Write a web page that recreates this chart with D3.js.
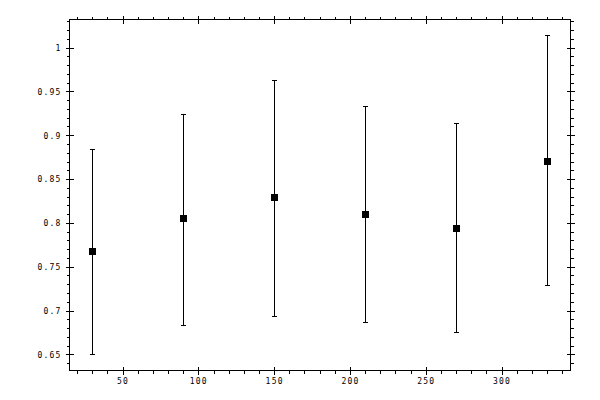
<!DOCTYPE html>
<html>
<head>
<meta charset="utf-8">
<script src="https://cdn.jsdelivr.net/npm/d3@7"></script>
<style>
  html, body { margin: 0; padding: 0; background: #fff; }
  svg { display: block; }
  text { font-family: "DejaVu Sans Mono", monospace; font-size: 8px; letter-spacing: 1.2px; fill: #000; }
</style>
</head>
<body>
<svg id="chart" width="600" height="400"></svg>
<script>
// Data
const xValues   = [30, 90, 150, 210, 270, 330];
const yValues   = [0.768, 0.805, 0.829, 0.8105, 0.7945, 0.871];
const yUpper    = [0.8845, 0.9247, 0.9635, 0.9338, 0.9144, 1.014];
const yLower    = [0.6507, 0.6838, 0.6933, 0.6872, 0.675, 0.7287];
const xTicks    = [50, 100, 150, 200, 250, 300];
const yTicks    = [0.65, 0.7, 0.75, 0.8, 0.85, 0.9, 0.95, 1];

(function () {
const svg = d3.select("#chart");
const L = 69.5, R = 570.5, T = 19.5, B = 370.5;

const x = d3.scaleLinear().domain([15, 345.5]).range([L, R]);
const y = d3.scaleLinear().domain([0.6316, 1.032]).range([B, T]);

const xMinor = d3.range(20, 345, 10).filter(v => v % 50 !== 0);
const yMinor = d3.range(64, 104, 1).map(v => v / 100).filter(v => Math.round(v * 100) % 5 !== 0);

const g = svg.append("g").attr("shape-rendering", "crispEdges");

g.append("rect").attr("x", L).attr("y", T).attr("width", R - L).attr("height", B - T)
  .attr("fill", "none").attr("stroke", "#000").attr("stroke-width", 1);

function styleAxis(sel) {
  sel.select(".domain").remove();
  sel.selectAll("line").attr("stroke", "#000").attr("stroke-width", 1);
}

const axBottom = g.append("g").attr("transform", `translate(0,${B})`)
  .call(d3.axisBottom(x).tickValues(xTicks).tickSize(4).tickFormat(d3.format("d")));
styleAxis(axBottom);
axBottom.selectAll(".tick line").attr("y1", -4).attr("y2", 4);
axBottom.selectAll(".tick text").attr("y", 13).attr("dy", 0).attr("text-anchor", "middle");

const axBottomMinor = g.append("g").attr("transform", `translate(0,${B})`)
  .call(d3.axisBottom(x).tickValues(xMinor).tickSize(3).tickFormat(""));
styleAxis(axBottomMinor);

const axTop = g.append("g").attr("transform", `translate(0,${T})`)
  .call(d3.axisTop(x).tickValues(xTicks).tickSize(4).tickFormat(""));
styleAxis(axTop);
axTop.selectAll(".tick line").attr("y1", -4).attr("y2", 4);
const axTopMinor = g.append("g").attr("transform", `translate(0,${T})`)
  .call(d3.axisTop(x).tickValues(xMinor).tickSize(3).tickFormat(""));
styleAxis(axTopMinor);

const axLeft = g.append("g").attr("transform", `translate(${L},0)`)
  .call(d3.axisLeft(y).tickValues(yTicks).tickSize(4).tickFormat(d => String(+d.toFixed(2))));
styleAxis(axLeft);
axLeft.selectAll(".tick line").attr("x1", -4).attr("x2", 4);
axLeft.selectAll(".tick text").attr("x", -8).attr("dy", "0.35em").attr("text-anchor", "end");
const axLeftMinor = g.append("g").attr("transform", `translate(${L},0)`)
  .call(d3.axisLeft(y).tickValues(yMinor).tickSize(3).tickFormat(""));
styleAxis(axLeftMinor);

const axRight = g.append("g").attr("transform", `translate(${R},0)`)
  .call(d3.axisRight(y).tickValues(yTicks).tickSize(4).tickFormat(""));
styleAxis(axRight);
axRight.selectAll(".tick line").attr("x1", -4).attr("x2", 4);
const axRightMinor = g.append("g").attr("transform", `translate(${R},0)`)
  .call(d3.axisRight(y).tickValues(yMinor).tickSize(3).tickFormat(""));
styleAxis(axRightMinor);

svg.selectAll("text").attr("font-family", "DejaVu Sans Mono, monospace").attr("font-size", 8);

const data = xValues.map((xv, i) => ({ x: xv, y: yValues[i], hi: yUpper[i], lo: yLower[i] }));
const marks = g.append("g");
const bars = marks.selectAll(".eb").data(data).enter().append("g");
bars.append("line")
  .attr("x1", d => Math.round(x(d.x)) + 0.5).attr("x2", d => Math.round(x(d.x)) + 0.5)
  .attr("y1", d => y(d.hi)).attr("y2", d => y(d.lo))
  .attr("stroke", "#000").attr("stroke-width", 1);
bars.append("line")
  .attr("x1", d => Math.round(x(d.x)) - 2).attr("x2", d => Math.round(x(d.x)) + 3)
  .attr("y1", d => Math.round(y(d.hi)) + 0.5).attr("y2", d => Math.round(y(d.hi)) + 0.5)
  .attr("stroke", "#000").attr("stroke-width", 1);
bars.append("line")
  .attr("x1", d => Math.round(x(d.x)) - 2).attr("x2", d => Math.round(x(d.x)) + 3)
  .attr("y1", d => Math.round(y(d.lo)) + 0.5).attr("y2", d => Math.round(y(d.lo)) + 0.5)
  .attr("stroke", "#000").attr("stroke-width", 1);
bars.append("rect")
  .attr("x", d => Math.round(x(d.x)) - 3).attr("y", d => Math.round(y(d.y)) - 3)
  .attr("width", 7).attr("height", 7).attr("fill", "#000");
})();
</script>
</body>
</html>
